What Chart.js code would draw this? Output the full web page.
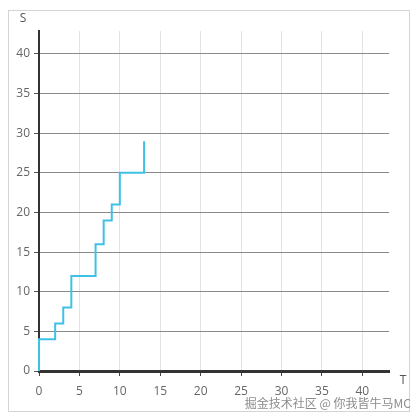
<!DOCTYPE html>
<html>
<head>
<meta charset="utf-8">
<script src="https://cdn.jsdelivr.net/npm/chart.js@4"></script>
<style>
  html, body { margin: 0; padding: 0; background: #fff; }
  #wrap { position: relative; width: 420px; height: 420px; }
  canvas { display: block; }
</style>
</head>
<body>
<div id="wrap"><canvas id="c" width="420" height="420"></canvas></div>
<script>
// Data (step chart)
const tValues = [0, 0, 2, 3, 4, 7, 8, 9, 10, 13];
const sValues = [0, 4, 6, 8, 12, 16, 19, 21, 25, 29];
const xTicks = [0, 5, 10, 15, 20, 25, 30, 35, 40];
const yTicks = [0, 5, 10, 15, 20, 25, 30, 35, 40];
const xAxisName = 'T';
const yAxisName = 'S';
const watermark = '掘金技术社区 @ 你我皆牛马MC';

const FONT = '"Open Sans", "Noto Sans", "Noto Sans CJK SC", sans-serif';

const decor = {
  id: 'decor',
  beforeDraw(chart) {
    const ctx = chart.ctx;
    ctx.save();
    ctx.strokeStyle = '#d4d4d4';
    ctx.lineWidth = 1;
    ctx.strokeRect(8.5, 10.5, 401, 401);
    ctx.restore();
  },
  afterDraw(chart) {
    const ctx = chart.ctx;
    ctx.save();
    ctx.fillStyle = '#555';
    ctx.font = '12px ' + FONT;
    ctx.textAlign = 'center';
    ctx.textBaseline = 'middle';
    ctx.fillText(yAxisName, 23, 19);
    ctx.fillText(xAxisName, 403, 381);
    ctx.fillStyle = '#8c8c8c';
    ctx.font = '12px "Noto Sans CJK SC", sans-serif';
    ctx.textAlign = 'right';
    ctx.fillText(watermark, 411, 403);
    ctx.restore();
  }
};

new Chart(document.getElementById('c'), {
  type: 'line',
  data: {
    datasets: [{
      data: tValues.map((t, i) => ({ x: t, y: sValues[i] })),
      borderColor: '#3fc1e6',
      borderWidth: 2,
      pointRadius: 0,
      stepped: 'before',
      fill: false,
      tension: 0,
      clip: false
    }]
  },
  options: {
    responsive: false,
    animation: false,
    devicePixelRatio: 1,
    layout: { padding: { left: 0, top: 31, right: 31, bottom: 0 } },
    plugins: { legend: { display: false }, tooltip: { enabled: false } },
    scales: {
      x: {
        type: 'linear',
        min: 0, max: 43.3,
        afterBuildTicks(scale) { scale.ticks = xTicks.map(v => ({ value: v })); },
        afterFit(scale) { scale.height = 49; },
        border: { display: true, color: '#333', width: 3 },
        grid: { color: '#e3e3e3', lineWidth: 1, tickLength: 5, tickColor: '#444', drawTicks: true },
        ticks: { color: '#666', font: { size: 12, family: FONT }, padding: 8, maxRotation: 0, autoSkip: false }
      },
      y: {
        type: 'linear',
        min: 0, max: 42.9,
        afterBuildTicks(scale) { scale.ticks = yTicks.map(v => ({ value: v })); },
        afterFit(scale) { scale.width = 39; },
        border: { display: true, color: '#333', width: 2 },
        grid: { color: '#8a8a8a', lineWidth: 1, tickLength: 5, tickColor: '#555', drawTicks: true },
        ticks: { color: '#666', font: { size: 12, family: FONT }, padding: 4, autoSkip: false }
      }
    }
  },
  plugins: [decor]
});
</script>
</body>
</html>
